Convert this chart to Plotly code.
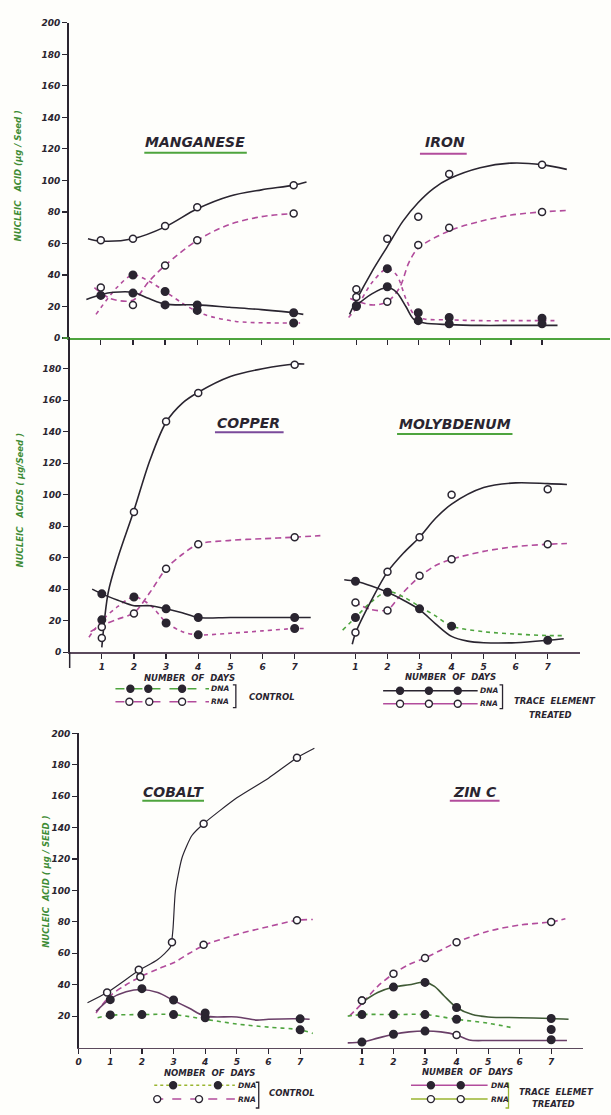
import plotly.graph_objects as go

W, H = 611, 1115

# ======================= DATA =======================
DAYS = [1, 2, 3, 4, 7]
X_TICKS = [1, 2, 3, 4, 5, 6, 7]
CO_X_TICKS = [0, 1, 2, 3, 4, 5, 6, 7]
Y_TICKS_TOP = [0, 20, 40, 60, 80, 100, 120, 140, 160, 180, 200]
Y_TICKS_MID = [0, 20, 40, 60, 80, 100, 120, 140, 160, 180]
Y_TICKS_BOT = [20, 40, 60, 80, 100, 120, 140, 160, 180, 200]

# --- Manganese ---
MN_RNA_T = [62, 63, 71, 83, 97]
MN_RNA_T_FIT_X = [0.6, 1, 2, 3, 4, 5, 6, 7, 7.4]
MN_RNA_T_FIT_Y = [63, 61.5, 63, 70.5, 82, 90, 94, 97, 99]
MN_RNA_C = [32, 21, 46, 62, 79]
MN_RNA_C_FIT_X = [0.8, 1.3, 2, 2.5, 3, 4, 5, 6, 7]
MN_RNA_C_FIT_Y = [32, 25, 24, 36, 46, 62, 72, 77, 79]
MN_DNA_C_DAYS = [2, 3, 4, 7]
MN_DNA_C = [40, 29.5, 17.5, 9.5]
MN_DNA_C_FIT_X = [0.85, 1.5, 2, 2.5, 3, 3.7, 4.2, 5.2, 7, 7.2]
MN_DNA_C_FIT_Y = [15, 32, 40, 36, 29.5, 20, 15, 10.5, 9.5, 9.5]
MN_DNA_T = [27, 28.5, 21, 21, 16]
MN_DNA_T_FIT_X = [0.55, 1, 1.4, 2, 2.5, 3, 4, 5, 6, 7, 7.3]
MN_DNA_T_FIT_Y = [24.5, 27.5, 29, 29, 25, 21.5, 21, 19.5, 18, 16, 15]

# --- Iron ---
FE_RNA_T = [31, 63, 77, 104, 110]
FE_RNA_T_FIT_X = [0.78, 1, 1.5, 2, 2.5, 3, 3.5, 4, 5, 6, 7, 7.8]
FE_RNA_T_FIT_Y = [15, 24, 42, 58, 74, 86, 95, 101, 108, 111, 110, 107]
FE_RNA_C = [26, 23, 59, 70, 80]
FE_RNA_C_FIT_X = [0.8, 1.5, 2, 2.4, 2.7, 3, 4, 5, 6, 7, 7.9]
FE_RNA_C_FIT_Y = [25, 21, 23, 32, 48, 57, 68, 74, 78, 80, 81]
FE_DNA_C = [20, 44, 16, 13, 12.5]
FE_DNA_C_FIT_X = [0.75, 1, 1.5, 2, 2.3, 2.6, 2.9, 3.2, 4, 5, 6, 7, 7.5]
FE_DNA_C_FIT_Y = [13, 19, 35, 44, 40, 25, 14, 12, 11.5, 11, 11, 11, 11]
FE_DNA_T = [20.5, 32.5, 11, 9, 9]
FE_DNA_T_FIT_X = [0.9, 1.5, 2, 2.3, 2.6, 2.85, 3.2, 4, 5, 6, 7, 7.5]
FE_DNA_T_FIT_Y = [19, 28, 32, 29, 20, 12, 9.5, 8.5, 8, 8, 8, 8]

# --- Copper ---
CU_RNA_T = [9, 89, 146.5, 164.5, 182.5]
CU_RNA_T_FIT_X = [1, 1.2, 1.5, 2, 2.5, 3, 3.5, 4, 5, 6, 7, 7.3]
CU_RNA_T_FIT_Y = [3, 38, 60, 90, 122, 146, 158, 165, 175, 180, 183, 183]
CU_RNA_C = [16, 24.5, 53, 68.5, 73]
CU_RNA_C_FIT_X = [0.65, 1, 1.5, 2, 2.5, 3, 3.5, 4, 5, 6, 7, 7.8]
CU_RNA_C_FIT_Y = [13, 17, 21, 25, 38, 53, 62, 68.5, 71, 72, 73, 74]
CU_DNA_C = [20.5, 35, 18.5, 11, 15]
CU_DNA_C_FIT_X = [0.6, 1, 1.5, 2, 2.5, 3, 3.5, 4, 5, 6, 7, 7.4]
CU_DNA_C_FIT_Y = [9.5, 20, 29, 35, 30, 19, 13, 11, 12, 13.5, 15, 15]
CU_DNA_T_DAYS = [1, 3, 4, 7]
CU_DNA_T = [37, 27.5, 22, 22]
CU_DNA_T_FIT_X = [0.7, 1, 1.5, 2, 2.5, 3, 3.5, 4, 5, 7, 7.5]
CU_DNA_T_FIT_Y = [40, 37, 33, 29.5, 29.5, 27.5, 25, 22, 22, 22, 22]

# --- Molybdenum ---
MO_RNA_T = [12.5, 51, 73, 100, 103.5]
MO_RNA_T_FIT_X = [0.9, 1, 1.5, 2, 2.5, 3, 3.5, 4, 5, 6, 7, 7.6]
MO_RNA_T_FIT_Y = [5, 12, 33, 51, 63, 73, 85, 94, 104.5, 107.5, 107, 106.5]
MO_RNA_C = [31.5, 26.5, 48.5, 59, 68.5]
MO_RNA_C_FIT_X = [0.95, 1.5, 2, 2.4, 3, 3.5, 4, 5, 6, 7, 7.6]
MO_RNA_C_FIT_Y = [32, 27, 27, 36, 48, 55, 59, 64, 67, 68.5, 69]
MO_DNA_C_DAYS = [1, 4]
MO_DNA_C = [22, 16.5]
MO_DNA_C_FIT_X = [0.6, 1, 1.5, 2, 2.5, 3, 3.5, 4, 5, 6, 7, 7.5]
MO_DNA_C_FIT_Y = [14, 22, 32, 38.5, 35, 29, 23, 16.5, 13, 11.5, 10.5, 10.5]
MO_DNA_T_DAYS = [1, 2, 3, 7]
MO_DNA_T = [45, 38, 27.5, 7.5]
MO_DNA_T_FIT_X = [0.65, 1, 1.5, 2, 2.5, 3, 3.5, 4, 4.5, 5, 6, 7, 7.5]
MO_DNA_T_FIT_Y = [46, 45, 42, 38, 33, 27, 18, 10, 7, 6, 6, 7.5, 8.5]

# --- Cobalt ---
CO_RNA_T_DAYS = [0.9, 1.9, 2.95, 3.95, 6.9]
CO_RNA_T = [35, 49.5, 67, 142.5, 184.5]
CO_RNA_T_FIT_X = [0.28, 0.9, 1.9, 2.5, 2.9, 2.98, 3.06, 3.27, 3.58, 3.95, 5, 6, 6.9, 7.45]
CO_RNA_T_FIT_Y = [28.5, 35, 49, 56, 64, 75, 100, 121, 135, 142.5, 159, 171.5, 184.5, 190.5]
CO_RNA_C_DAYS = [1.95, 3.95, 6.9]
CO_RNA_C = [45, 65.5, 81]
CO_RNA_C_FIT_X = [0.55, 1, 1.5, 1.95, 2.5, 3, 3.5, 3.95, 5, 6, 6.9, 7.4]
CO_RNA_C_FIT_Y = [22, 33, 40, 45, 50, 54, 60, 65, 72, 77, 81, 81.5]
CO_DNA_C = [20.8, 21, 21, 19, 11.3]
CO_DNA_C_FIT_X = [0.6, 1, 2, 3, 4, 5, 6, 7, 7.4]
CO_DNA_C_FIT_Y = [19, 20.5, 21, 21, 18, 15, 13, 11.3, 9]
CO_DNA_T = [30.5, 37.5, 30.3, 22, 18.3]
CO_DNA_T_FIT_X = [0.55, 1, 1.5, 2, 2.5, 3, 3.5, 4, 5, 5.6, 6, 7, 7.3]
CO_DNA_T_FIT_Y = [23, 31, 35.5, 37, 35, 30, 25, 20, 19.5, 17.5, 18, 18.3, 18]

# --- Zinc ---
ZN_RNA_C = [30, 47, 57, 67, 80]
ZN_RNA_C_FIT_X = [0.6, 1, 1.5, 2, 2.5, 3, 3.5, 4, 5, 6, 7, 7.45]
ZN_RNA_C_FIT_Y = [20, 28, 39, 47, 53, 57, 62, 67, 74, 78, 80, 82]
ZN_RNA_T = [30, 38.5, 41.5, 25.5, 18.5]
ZN_RNA_T_OPEN = [True, False, False, False, False]
ZN_RNA_T_FIT_X = [0.95, 1.5, 2, 2.5, 3, 3.3, 3.6, 4, 4.5, 5, 6, 7, 7.55]
ZN_RNA_T_FIT_Y = [28, 35, 38.5, 40, 41.5, 39, 33, 25.5, 21, 19.5, 19, 18.5, 18]
ZN_DNA_C = [21, 21, 21, 18, 11.5]
ZN_DNA_C_FIT_X = [0.55, 1, 2, 3, 4, 5, 5.8]
ZN_DNA_C_FIT_Y = [20, 21, 21, 21, 18, 15.5, 12.5]
ZN_DNA_T = [3.5, 8.5, 10.5, 8, 5]
ZN_DNA_T_OPEN = [False, False, False, True, False]
ZN_DNA_T_FIT_X = [0.55, 1, 1.5, 2, 2.5, 3, 3.5, 4, 4.4, 5, 6, 7, 7.5]
ZN_DNA_T_FIT_Y = [3, 3.5, 6, 8.5, 10, 10.5, 10, 8, 4.8, 4.5, 4.5, 4.5, 4.5]

# ======================= STYLE / LAYOUT CONSTANTS =======================
INK = "#2a2530"
MAGENTA = "#b24c9c"
GREEN = "#4ea43e"
YGREEN = "#9ab531"
BG = "#fefefb"
FONT = "DejaVu Sans"


def xd(px):
    return px / W


def yd(py):
    return 1 - py / H


def F(size, color=INK):
    return dict(family=FONT, size=size, color=color, style="italic", weight="bold")


# panel geometry: day-0 pixel, px per day, x max (days), value-0 pixel, px per unit
GEOM = {
    1: (66, 32.3, 8.0, 336, 1.59),    # Manganese
    2: (324, 31.1, 9.2, 336, 1.59),   # Iron
    3: (67, 32.3, 7.9, 653, 1.589),   # Copper
    4: (322, 32.2, 8.0, 653, 1.589),  # Molybdenum
    5: (76, 31.8, 8.0, 1052, 1.585),  # Cobalt
    6: (329, 31.7, 8.0, 1052, 1.585), # Zinc
}

fig = go.Figure()


def curve(k, fx, fy, color, dash="solid", width=1.6, smoothing=0.9):
    fig.add_trace(go.Scatter(
        x=fx, y=fy, mode="lines",
        line=dict(color=color, width=width, dash=dash, shape="spline", smoothing=smoothing),
        xaxis=f"x{k}", yaxis=f"y{k}", hoverinfo="skip", showlegend=False))


def points(k, px, py, open_flags):
    if isinstance(open_flags, bool):
        open_flags = [open_flags] * len(px)
    fig.add_trace(go.Scatter(
        x=px, y=py, mode="markers",
        marker=dict(
            symbol="circle", opacity=1,
            size=[7 if o else 7.5 for o in open_flags],
            color=["#ffffff" if o else INK for o in open_flags],
            line=dict(color=INK, width=1.5)),
        xaxis=f"x{k}", yaxis=f"y{k}", hoverinfo="skip", showlegend=False, cliponaxis=False))


DASH_C_RNA = "6px,4px"
DASH_C_DNA = "4px,4px"

# Manganese
curve(1, MN_RNA_C_FIT_X, MN_RNA_C_FIT_Y, MAGENTA, DASH_C_RNA)
curve(1, MN_DNA_C_FIT_X, MN_DNA_C_FIT_Y, MAGENTA, DASH_C_DNA)
curve(1, MN_RNA_T_FIT_X, MN_RNA_T_FIT_Y, INK)
curve(1, MN_DNA_T_FIT_X, MN_DNA_T_FIT_Y, INK)
points(1, DAYS, MN_RNA_T, True)
points(1, DAYS, MN_RNA_C, True)
points(1, MN_DNA_C_DAYS, MN_DNA_C, False)
points(1, DAYS, MN_DNA_T, False)

# Iron
curve(2, FE_RNA_C_FIT_X, FE_RNA_C_FIT_Y, MAGENTA, DASH_C_RNA)
curve(2, FE_DNA_C_FIT_X, FE_DNA_C_FIT_Y, MAGENTA, DASH_C_DNA)
curve(2, FE_RNA_T_FIT_X, FE_RNA_T_FIT_Y, INK)
curve(2, FE_DNA_T_FIT_X, FE_DNA_T_FIT_Y, INK)
points(2, DAYS, FE_RNA_T, True)
points(2, DAYS, FE_RNA_C, True)
points(2, DAYS, FE_DNA_C, False)
points(2, DAYS, FE_DNA_T, False)

# Copper
curve(3, CU_RNA_C_FIT_X, CU_RNA_C_FIT_Y, MAGENTA, DASH_C_RNA)
curve(3, CU_DNA_C_FIT_X, CU_DNA_C_FIT_Y, MAGENTA, DASH_C_DNA)
curve(3, CU_RNA_T_FIT_X, CU_RNA_T_FIT_Y, INK)
curve(3, CU_DNA_T_FIT_X, CU_DNA_T_FIT_Y, INK)
points(3, DAYS, CU_RNA_T, True)
points(3, DAYS, CU_RNA_C, True)
points(3, DAYS, CU_DNA_C, False)
points(3, CU_DNA_T_DAYS, CU_DNA_T, False)

# Molybdenum
curve(4, MO_RNA_C_FIT_X, MO_RNA_C_FIT_Y, MAGENTA, DASH_C_RNA)
curve(4, MO_DNA_C_FIT_X, MO_DNA_C_FIT_Y, GREEN, DASH_C_DNA)
curve(4, MO_RNA_T_FIT_X, MO_RNA_T_FIT_Y, INK)
curve(4, MO_DNA_T_FIT_X, MO_DNA_T_FIT_Y, INK)
points(4, DAYS, MO_RNA_T, True)
points(4, DAYS, MO_RNA_C, True)
points(4, MO_DNA_C_DAYS, MO_DNA_C, False)
points(4, MO_DNA_T_DAYS, MO_DNA_T, False)

# Cobalt
curve(5, CO_RNA_C_FIT_X, CO_RNA_C_FIT_Y, MAGENTA, DASH_C_RNA)
curve(5, CO_DNA_C_FIT_X, CO_DNA_C_FIT_Y, GREEN, DASH_C_DNA)
curve(5, CO_RNA_T_FIT_X, CO_RNA_T_FIT_Y, INK, width=1.2, smoothing=0.6)
curve(5, CO_DNA_T_FIT_X, CO_DNA_T_FIT_Y, "#6a3f68")
points(5, CO_RNA_T_DAYS, CO_RNA_T, True)
points(5, CO_RNA_C_DAYS, CO_RNA_C, True)
points(5, DAYS, CO_DNA_C, False)
points(5, DAYS, CO_DNA_T, False)

# Zinc
curve(6, ZN_RNA_C_FIT_X, ZN_RNA_C_FIT_Y, MAGENTA, DASH_C_RNA)
curve(6, ZN_DNA_C_FIT_X, ZN_DNA_C_FIT_Y, GREEN, DASH_C_DNA)
curve(6, ZN_RNA_T_FIT_X, ZN_RNA_T_FIT_Y, "#3f5a35")
curve(6, ZN_DNA_T_FIT_X, ZN_DNA_T_FIT_Y, "#6a3f68")
points(6, DAYS, ZN_RNA_C, True)
points(6, DAYS, ZN_RNA_T, ZN_RNA_T_OPEN)
points(6, DAYS, ZN_DNA_C, False)
points(6, DAYS, ZN_DNA_T, ZN_DNA_T_OPEN)

# ======================= AXES =======================
AX_SPECS = {
    # k: (x tickvals, x labels?, y tickvals or None, x-line color)
    1: (X_TICKS, False, Y_TICKS_TOP, GREEN),
    2: (X_TICKS, False, None, GREEN),
    3: (X_TICKS, True, Y_TICKS_MID, "#5b4a5c"),
    4: (X_TICKS, True, None, "#5b4a5c"),
    5: (CO_X_TICKS, True, Y_TICKS_BOT, "#5b4a5c"),
    6: (X_TICKS, True, None, "#5b4a5c"),
}

layout_axes = {}
for k, (d0, ppd, xmax, y0, ppu) in GEOM.items():
    xt, xlab, yt, xcol = AX_SPECS[k]
    sfx = "" if k == 1 else str(k)
    layout_axes[f"xaxis{sfx}"] = dict(
        domain=[xd(d0), min(1.0, xd(d0 + xmax * ppd))], range=[0, xmax],
        anchor=f"y{k}", showline=True, linecolor=xcol, linewidth=1.6,
        ticks="outside", ticklen=5, tickwidth=1.2, tickcolor=INK,
        tickvals=xt, showticklabels=xlab, tickfont=F(9),
        showgrid=False, zeroline=False, fixedrange=True)
    ydict = dict(
        domain=[yd(y0), yd(y0 - 200 * ppu)], range=[0, 200], anchor=f"x{k}",
        showgrid=False, zeroline=False, fixedrange=True)
    if yt is None:
        ydict["visible"] = False
    else:
        ydict.update(showline=True, linecolor=INK, linewidth=1.5, ticks="outside",
                     ticklen=5, tickwidth=1.2, tickcolor=INK, tickvals=yt,
                     tickfont=F(9))
    layout_axes[f"yaxis{sfx}"] = ydict

# ======================= TEXT =======================
ann = []


def text(px, py, s, size, color=INK, xanchor="center", angle=0):
    ann.append(dict(x=xd(px), y=yd(py), xref="paper", yref="paper", text=s,
                    showarrow=False, font=F(size, color), xanchor=xanchor,
                    yanchor="middle", textangle=angle))


NB = "\u00a0"
# panel titles
text(193, 138, "MANGANESE", 14)
text(444, 138, "IRON", 14)
text(247, 422, "COPPER", 14)
text(454, 423, "MOLYBDENUM", 14)
text(171, 794, "COBALT", 14)
text(474, 794, "ZIN" + NB + "C", 14)

# y titles
YT = "#3e8c36"
text(16, 172, "NUCLEIC" + NB * 3 + "ACID" + NB + "(μg" + NB + "/" + NB + "Seed" + NB + ")", 8.5, YT, angle=-90)
text(17, 499, "NUCLEIC" + NB * 3 + "ACIDS" + NB + "(" + NB + "μg/Seed" + NB + ")", 8.5, YT, angle=-90)
text(43, 885, "NUCLEIC" + NB * 2 + "ACID" + NB + "(" + NB + "μg" + NB + "/" + NB + "SEED" + NB + ")", 8.5, YT, angle=-90)

# x titles
text(187, 679, "NUMBER" + NB * 2 + "OF" + NB * 2 + "DAYS", 8.5)
text(450, 678, "NUMBER" + NB * 2 + "OF" + NB * 2 + "DAYS", 8.5)
text(208, 1078, "NOMBER" + NB * 2 + "OF" + NB * 2 + "DAYS", 8.5)
text(467, 1077, "NUMBER" + NB * 2 + "OF" + NB * 2 + "DAYS", 8.5)

# ======================= SHAPES (underlines, legend keys) =======================
shapes = []


def hline(x0, x1, py, color, width=1.5, dash="solid"):
    shapes.append(dict(type="line", xref="paper", yref="paper",
                       x0=xd(x0), x1=xd(x1), y0=yd(py), y1=yd(py),
                       line=dict(color=color, width=width, dash=dash)))


def vline(px, y0, y1, color, width=1.5):
    shapes.append(dict(type="line", xref="paper", yref="paper",
                       x0=xd(px), x1=xd(px), y0=yd(y0), y1=yd(y1),
                       line=dict(color=color, width=width)))


def dot(cx, cy, filled):
    shapes.append(dict(type="circle", xref="paper", yref="paper",
                       xsizemode="pixel", ysizemode="pixel",
                       xanchor=xd(cx), yanchor=yd(cy), x0=-3.5, x1=3.5, y0=-3.5, y1=3.5,
                       fillcolor=INK if filled else "#ffffff",
                       line=dict(color=INK, width=1.4)))


def bracket(bx, top, bot, color=INK):
    path = (f"M {xd(bx - 3)},{yd(top)} L {xd(bx)},{yd(top)} "
            f"L {xd(bx)},{yd(bot)} L {xd(bx - 3)},{yd(bot)}")
    shapes.append(dict(type="path", xref="paper", yref="paper", path=path,
                       line=dict(color=color, width=1.3)))


# underlines
hline(142, 245, 149, GREEN, 2)
hline(419, 466, 150, MAGENTA, 2)
hline(213, 282, 431, "#7a4a9a", 2)
hline(396, 512, 433, GREEN, 2)
hline(140, 202, 803, GREEN, 2)
hline(449, 499, 803, MAGENTA, 2)

# axis line stubs seen in the scan
hline(60, 66, 336, GREEN, 1.6)
vline(67, 653, 669, INK, 1.5)


def legend_key(x0, x1, py, color, dash, marks, filled, label, lab_x):
    hline(x0, x1, py, color, 1.5, dash)
    for m in marks:
        dot(m, py, filled)
    text(lab_x, py, label, 7.5, xanchor="left")


# copper (control)
legend_key(113, 207, 690, GREEN, "dash", [128, 146, 180], True, "DNA", 207)
legend_key(113, 207, 703, MAGENTA, "dash", [127, 147, 180], False, "RNA", 207)
bracket(234, 686, 709)
text(245, 698, "CONTROL", 8.5, xanchor="left")

# molybdenum (treated)
legend_key(382, 477, 692, INK, "solid", [399, 428, 457], True, "DNA", 477)
legend_key(382, 477, 705, MAGENTA, "solid", [399, 428, 457], False, "RNA", 477)
bracket(502, 686, 710)
text(512, 702, "TRACE" + NB + NB + "ELEMENT", 8.5, xanchor="left")
text(527, 716, "TREATED", 8.5, xanchor="left")

# cobalt (control)
legend_key(152, 233, 1090, YGREEN, "dot", [171, 216], True, "DNA", 234)
legend_key(152, 233, 1104, MAGENTA, "dash", [155, 197], False, "RNA", 234)
bracket(257, 1087, 1113)
text(265, 1098, "CONTROL", 8.5, xanchor="left")

# zinc (treated)
legend_key(410, 487, 1090, MAGENTA, "solid", [430, 460], True, "DNA", 488)
legend_key(410, 487, 1104, YGREEN, "solid", [430, 460], False, "RNA", 488)
bracket(508, 1088, 1113, YGREEN)
text(517, 1097, "TRACE" + NB + NB + "ELEMET", 8.5, xanchor="left")
text(530, 1109, "TREATED", 8.5, xanchor="left")

fig.update_layout(
    width=W, height=H, margin=dict(l=0, r=0, t=0, b=0),
    paper_bgcolor=BG, plot_bgcolor="rgba(0,0,0,0)",
    showlegend=False, annotations=ann, shapes=shapes,
    font=dict(family=FONT, color=INK),
    **layout_axes,
)

fig.write_html(
    "out.html",
    config={"displayModeBar": False, "staticPlot": True},
    post_script="document.body.style.margin='0';document.body.style.padding='0';",
)
